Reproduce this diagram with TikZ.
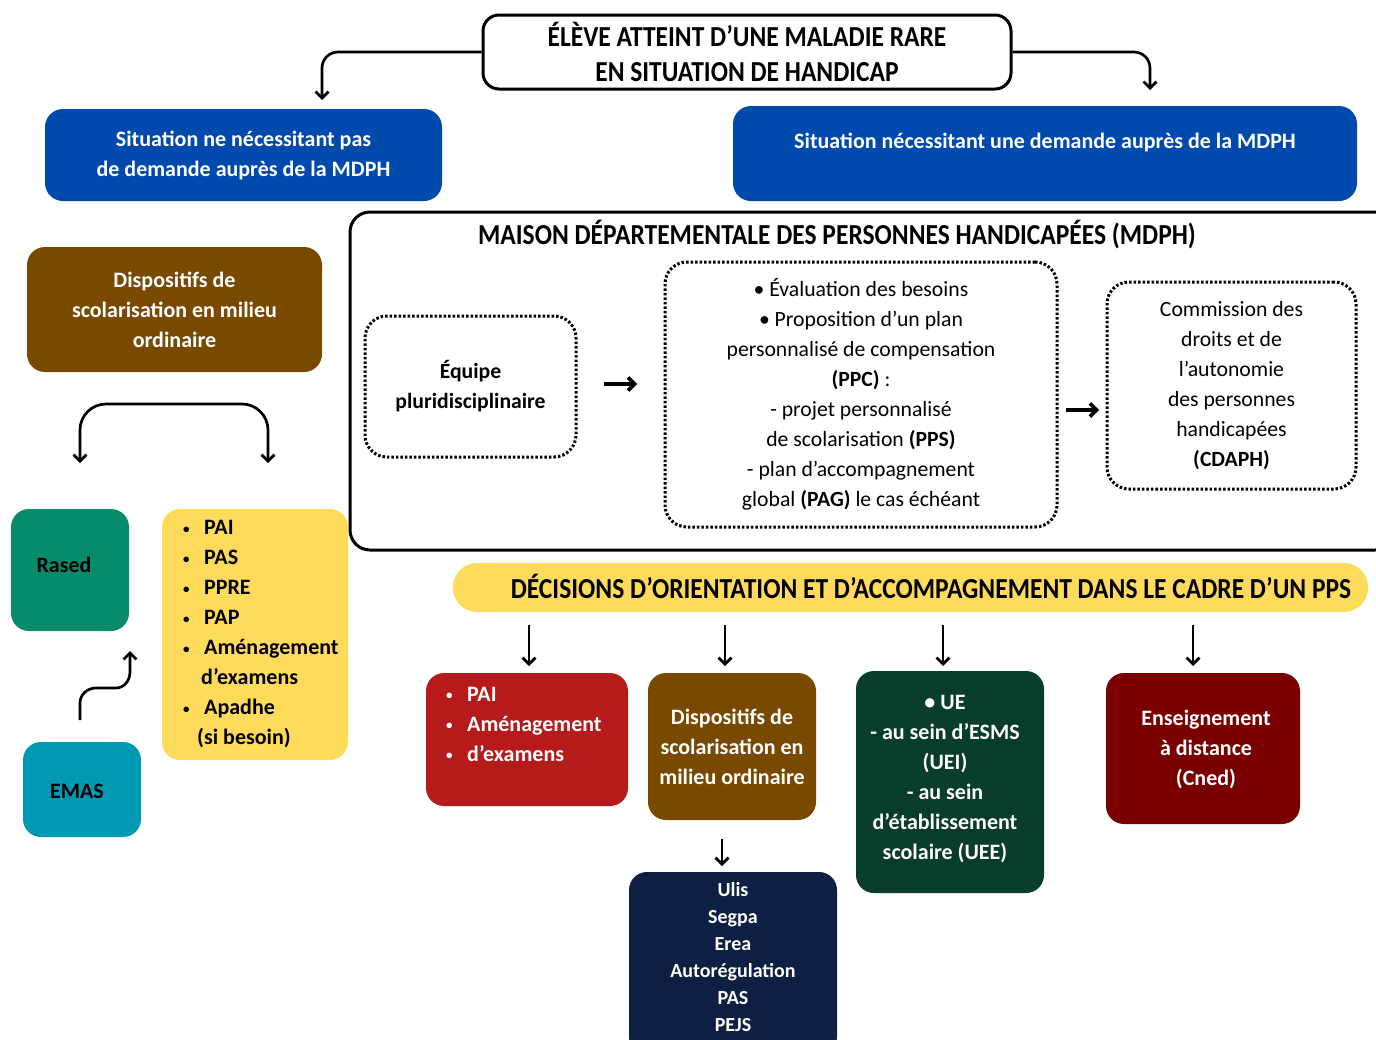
\documentclass[tikz,border=0pt]{standalone}
\usepackage{fontspec}
\setmainfont{Carlito}
\newfontfamily\condfont[FakeStretch=0.88]{Carlito}
\usetikzlibrary{arrows.meta}
\definecolor{cblue}{RGB}{0,74,173}
\definecolor{cbrown}{RGB}{122,73,0}
\definecolor{cgreen}{RGB}{6,140,106}
\definecolor{cyellow}{RGB}{255,219,91}
\definecolor{cteal}{RGB}{0,153,180}
\definecolor{cred}{RGB}{182,26,26}
\definecolor{cdgreen}{RGB}{8,61,42}
\definecolor{cdred}{RGB}{122,0,0}
\definecolor{cnavy}{RGB}{14,31,68}
\newcommand{\sbul}{\makebox[21pt][l]{\raisebox{1.5pt}{\fontsize{13}{13}\selectfont•}}}
\begin{document}
\begin{tikzpicture}[x=1pt,y=-1pt,
  box/.style={rounded corners=18pt, inner sep=0pt, align=center, font=\fontsize{22}{30}\selectfont\bfseries},
  wbox/.style={box, text=white},
  outl/.style={draw=black, line width=3pt, fill=white},
  dotbox/.style={draw=black, line width=3pt, dash pattern=on 2.5pt off 2pt, rounded corners=22pt, inner sep=0pt, align=center},
  txt/.style={inner sep=0pt, align=center},
  btxt/.style={txt, font=\fontsize{22}{30}\selectfont\bfseries},
  tip/.tip={Straight Barb[length=6.5pt,width=13pt]},
  arr/.style={line width=2.7pt, -tip},
  head/.style={font=\condfont\fontsize{29}{35}\selectfont\bfseries},
  body/.style={font=\fontsize{21.7}{30}\selectfont}
]
\useasboundingbox (0,0) rectangle (1376,1039);
\fill[white] (0,0) rectangle (1376,1039);

% top
\node[box, outl, rounded corners=16pt, minimum width=528pt, minimum height=74pt, head] (top) at (747,52)
  {ÉLÈVE ATTEINT D’UNE MALADIE RARE\\EN SITUATION DE HANDICAP};
\coordinate (aL) at (322,100);
\coordinate (aR) at (1150,90);
\draw[arr, rounded corners=16pt] (top.west) -| (aL);
\draw[arr, rounded corners=16pt] (top.east) -| (aR);

% blue boxes
\node[wbox, fill=cblue, minimum width=397pt, minimum height=92pt] (blueL) at (243.5,155)
  {Situation ne nécessitant pas\\de demande auprès de la MDPH};
\node[wbox, fill=cblue, minimum width=624pt, minimum height=95pt] (blueR) at (1045,153.5) {};
\node[btxt, text=white] (blueRt) at (1045,142)
  {Situation nécessitant une demande auprès de la MDPH};

% MDPH
\node[outl, rounded corners=20pt, minimum width=1045pt, minimum height=338pt, inner sep=0pt] (mdph) at (872.5,381) {};
\node[txt, head] (mdpht) at (837,235) {MAISON DÉPARTEMENTALE DES PERSONNES HANDICAPÉES (MDPH)};
\node[dotbox, minimum width=211pt, minimum height=141pt, font=\fontsize{21.7}{30}\selectfont\bfseries] (equipe) at (470.5,386.5)
  {Équipe\\pluridisciplinaire};
\node[dotbox, minimum width=392pt, minimum height=265pt, body] (mid) at (861,394.5)
  {• Évaluation des besoins\\• Proposition d’un plan\\personnalisé de compensation\\\textbf{(PPC)} :\\- projet personnalisé\\de scolarisation \textbf{(PPS)}\\- plan d’accompagnement\\global \textbf{(PAG)} le cas échéant};
\node[dotbox, minimum width=249pt, minimum height=207pt, body] (cdaph) at (1231.5,385.5)
  {Commission des\\droits et de\\l’autonomie\\des personnes\\handicapées\\\textbf{(CDAPH)}};
\coordinate (m1) at (604,384); \coordinate (m2) at (637,384);
\coordinate (m3) at (1066,410); \coordinate (m4) at (1099,410);
\draw[arr, line width=3.6pt] (m1) -- (m2);
\draw[arr, line width=3.6pt] (m3) -- (m4);

% left column
\node[wbox, fill=cbrown, minimum width=295pt, minimum height=125pt] (brownL) at (174.5,309.5)
  {Dispositifs de\\scolarisation en milieu\\ordinaire};
\coordinate (b1) at (80,463); \coordinate (b2) at (268,463); \coordinate (bm) at (174,404);
\draw[line width=2.7pt, tip-tip, rounded corners=26pt]
  (b1) |- (bm) -| (b2);
\node[box, fill=cgreen, minimum width=118pt, minimum height=122pt] (rased) at (70,570) {};
\node[btxt] (rasedt) at (64,565) {Rased};
\node[box, fill=cyellow, minimum width=186pt, minimum height=251pt] (yellow) at (255,634.5) {};
\node[btxt, align=left, anchor=west] (yellowt) at (183,634.5)
  {\sbul PAI\\\sbul PAS\\\sbul PPRE\\\sbul PAP\\\sbul Aménagement\\\hspace{18pt}d’examens\\\sbul Apadhe\\\hspace{14pt}(si besoin)};
\node[box, fill=cteal, minimum width=118pt, minimum height=95pt] (emas) at (82,789.5) {};
\node[btxt] (emast) at (77,791) {EMAS};
\coordinate (e1) at (80,720); \coordinate (e2) at (130,651);
\draw[arr] (e1) -- (80,703) to[out=90,in=180] (96,688) -- (116,688) to[out=0,in=-90] (130,672) -- (e2);

% decisions
\node[fill=cyellow, rounded corners=24pt, minimum width=915pt, minimum height=49pt, inner sep=0pt] (banner) at (910.5,587.5) {};
\node[txt, head] (bannert) at (931,586) {DÉCISIONS D’ORIENTATION ET D’ACCOMPAGNEMENT DANS LE CADRE D’UN PPS};
\foreach \n/\x in {1/529,2/725,3/943,4/1193}{
  \coordinate (d\n a) at (\x,625); \coordinate (d\n b) at (\x,666);
  \draw[arr] (d\n a) -- (d\n b);
}
\node[wbox, fill=cred, minimum width=202pt, minimum height=133pt] (red) at (527,739.5) {};
\node[btxt, text=white, align=left, anchor=west] (redt) at (446,724)
  {\sbul PAI\\\sbul Aménagement\\\sbul d’examens};
\node[wbox, fill=cbrown, minimum width=168pt, minimum height=147pt] (brown2) at (732,746.5)
  {Dispositifs de\\scolarisation en\\milieu ordinaire};
\coordinate (u1) at (722,839); \coordinate (u2) at (722,866);
\draw[arr] (u1) -- (u2);
\node[wbox, fill=cnavy, minimum width=208pt, minimum height=183pt] (navy) at (733,963.5) {};
\node[txt, text=white, font=\fontsize{20}{27}\selectfont\bfseries] (navyt) at (733,957.5)
  {Ulis\\Segpa\\Erea\\Autorégulation\\PAS\\PEJS};
\node[wbox, fill=cdgreen, minimum width=188pt, minimum height=222pt] (dgreen) at (950,782) {};
\node[btxt, text=white] (dgreent) at (945,779.5)
  {• UE\\- au sein d’ESMS\\(UEI)\\- au sein\\d’établissement\\scolaire (UEE)};
\node[wbox, fill=cdred, minimum width=194pt, minimum height=151pt] (dred) at (1203,748.5) {};
\node[btxt, text=white] (dredt) at (1206,749)
  {Enseignement\\à distance\\(Cned)};
\end{tikzpicture}
\end{document}
